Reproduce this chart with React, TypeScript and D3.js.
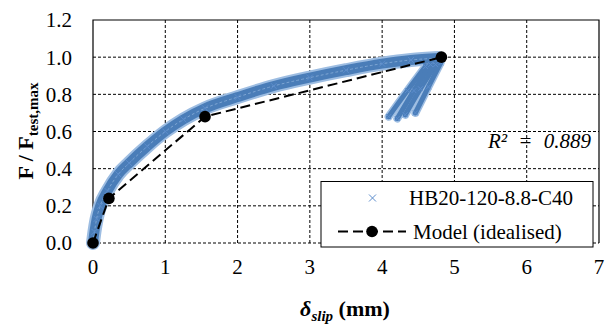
import React, { useRef, useEffect } from "react";
import * as d3 from "d3";

// test curve (band centre)
const loadX = [0, 0.02, 0.05, 0.1, 0.2, 0.35, 0.5, 0.75, 1.0, 1.25, 1.55, 2.0, 2.5, 3.0, 3.5, 4.0, 4.4, 4.78];
const loadY = [0, 0.06, 0.13, 0.2, 0.28, 0.37, 0.43, 0.52, 0.6, 0.665, 0.725, 0.785, 0.845, 0.89, 0.93, 0.965, 0.985, 0.995];

// unloading branches [top, middle, bottom]
const unloadX = [
  [4.6, 4.35, 4.09],
  [4.67, 4.44, 4.21],
  [4.74, 4.53, 4.32],
  [4.81, 4.64, 4.46],
];
const unloadY = [
  [0.95, 0.82, 0.68],
  [0.96, 0.82, 0.67],
  [0.96, 0.83, 0.69],
  [0.97, 0.84, 0.7],
];

const modelX = [0, 0.22, 1.55, 4.82];
const modelY = [0, 0.24, 0.68, 1.0];

const xTicks = [0, 1, 2, 3, 4, 5, 6, 7];
const yTicks = [0, 0.2, 0.4, 0.6, 0.8, 1.0, 1.2];

const seriesName = "HB20-120-8.8-C40";
const modelName = "Model (idealised)";
const r2Label = "R\u00B2 = 0.889";

const W = 611;
const H = 327;
const FONT = "Liberation Serif, Times New Roman, serif";

export default function App() {
  const ref = useRef<SVGSVGElement>(null);

  useEffect(() => {
    if (!ref.current) return;
    const svg = d3.select(ref.current);
    svg.selectAll("*").remove();

    const x = d3.scaleLinear().domain([0, 7]).range([93, 599]);
    const y = d3.scaleLinear().domain([0, 1.2]).range([243, 20]);

    svg.append("rect").attr("width", W).attr("height", H).attr("fill", "#fff");

    // grid
    const grid = svg.append("g").attr("stroke", "#000").attr("stroke-width", 1).attr("stroke-dasharray", "3,2");
    xTicks.slice(1, -1).forEach(t => {
      grid.append("line").attr("x1", x(t)).attr("x2", x(t)).attr("y1", y(1.2)).attr("y2", y(0));
    });
    yTicks.slice(0, -1).forEach(t => {
      grid.append("line").attr("x1", x(0)).attr("x2", x(7)).attr("y1", y(t)).attr("y2", y(t));
    });

    // border (top, left, right)
    svg.append("path")
      .attr("d", `M${x(0)},${y(0)}V${y(1.2)}H${x(7)}V${y(0)}`)
      .attr("fill", "none").attr("stroke", "#000").attr("stroke-width", 1.2);

    // tick labels
    svg.append("g").selectAll("text").data(yTicks).join("text")
      .attr("x", 72).attr("y", d => y(d)).attr("dy", "0.35em")
      .attr("text-anchor", "end").attr("font-family", FONT).attr("font-size", 21)
      .text(d => d3.format(".1f")(d));
    svg.append("g").selectAll("text").data(xTicks).join("text")
      .attr("x", d => x(d)).attr("y", 274)
      .attr("text-anchor", "middle").attr("font-family", FONT).attr("font-size", 21)
      .text(d => String(d));

    // test data band
    const line = d3.line<number[]>().x(d => x(d[0])).y(d => y(d[1])).curve(d3.curveMonotoneX);
    const lineB = d3.line<number[]>().x(d => x(d[0])).y(d => y(d[1])).curve(d3.curveCatmullRom);
    const loadPts = loadX.map((v, i) => [v, loadY[i]]);
    const branches = unloadX.map((xs, j) => xs.map((v, i) => [v, unloadY[j][i]]));

    const band = svg.append("g").attr("fill", "none").attr("stroke-linecap", "round").attr("stroke-linejoin", "round");
    band.append("path").attr("d", line(loadPts)).attr("stroke", "#9dbde2").attr("stroke-width", 14);
    branches.forEach(b => {
      band.append("path").attr("d", lineB(b)).attr("stroke", "#9dbde2").attr("stroke-width", 8);
    });
    band.append("path").attr("d", line(loadPts)).attr("stroke", "#4a7db8").attr("stroke-width", 10);
    branches.forEach(b => {
      band.append("path").attr("d", lineB(b)).attr("stroke", "#4a7db8").attr("stroke-width", 5);
    });
    band.append("path").attr("d", line(loadPts)).attr("stroke", "#7ea6d4").attr("stroke-width", 1).attr("stroke-dasharray", "2,3");

    const cross = (g: any, cx: number, cy: number, s: number) => {
      g.append("path")
        .attr("d", `M${cx - s},${cy - s}L${cx + s},${cy + s}M${cx - s},${cy + s}L${cx + s},${cy - s}`)
        .attr("stroke", "#5b8ccc").attr("stroke-width", 1).attr("fill", "none");
    };
    const marks = svg.append("g");
    loadPts.forEach(p => cross(marks, x(p[0]), y(p[1]), 3));
    branches.forEach(b => b.forEach(p => cross(marks, x(p[0]), y(p[1]), 2.5)));

    // model
    const modelPts = modelX.map((v, i) => [v, modelY[i]]);
    svg.append("path")
      .attr("d", d3.line<number[]>().x(d => x(d[0])).y(d => y(d[1]))(modelPts))
      .attr("fill", "none").attr("stroke", "#000").attr("stroke-width", 2).attr("stroke-dasharray", "10,5");
    svg.append("g").selectAll("circle").data(modelPts).join("circle")
      .attr("cx", d => x(d[0])).attr("cy", d => y(d[1])).attr("r", 5.8).attr("fill", "#000");

    // R2
    svg.append("text")
      .attr("x", 591).attr("y", 148).attr("text-anchor", "end")
      .attr("font-family", FONT).attr("font-size", 21).attr("font-style", "italic")
      .attr("word-spacing", 6)
      .text(r2Label);

    // legend
    const lg = svg.append("g");
    lg.append("rect").attr("x", 321).attr("y", 181.5).attr("width", 272).attr("height", 65.5)
      .attr("fill", "#fff").attr("stroke", "#000").attr("stroke-width", 1);
    cross(lg, 372.5, 198, 3.5);
    lg.append("text").attr("x", 409).attr("y", 205).attr("font-family", FONT).attr("font-size", 21).text(seriesName);
    lg.append("line").attr("x1", 338).attr("x2", 406).attr("y1", 231.5).attr("y2", 231.5)
      .attr("stroke", "#000").attr("stroke-width", 2).attr("stroke-dasharray", "10,5");
    lg.append("circle").attr("cx", 372).attr("cy", 231.5).attr("r", 5.8).attr("fill", "#000");
    lg.append("text").attr("x", 413).attr("y", 239).attr("font-family", FONT).attr("font-size", 21).text(modelName);

    // axis titles
    const xt = svg.append("text").attr("x", 345).attr("y", 316).attr("text-anchor", "middle")
      .attr("font-family", FONT).attr("font-size", 22).attr("font-weight", "bold");
    xt.append("tspan").attr("font-style", "italic").text("\u03B4");
    xt.append("tspan").attr("font-style", "italic").attr("font-size", 15).attr("dy", 5).text("slip");
    xt.append("tspan").attr("dy", -5).text(" (mm)");

    const yt = svg.append("text").attr("transform", `translate(33,131) rotate(-90)`).attr("text-anchor", "middle")
      .attr("font-family", FONT).attr("font-size", 22).attr("font-weight", "bold");
    yt.append("tspan").text("F / F");
    yt.append("tspan").attr("font-size", 15).attr("dy", 5).text("test,max");
  }, []);

  return (
    <svg ref={ref} width={W} height={H} style={{ position: "absolute", left: 0, top: 0 }} />
  );
}
